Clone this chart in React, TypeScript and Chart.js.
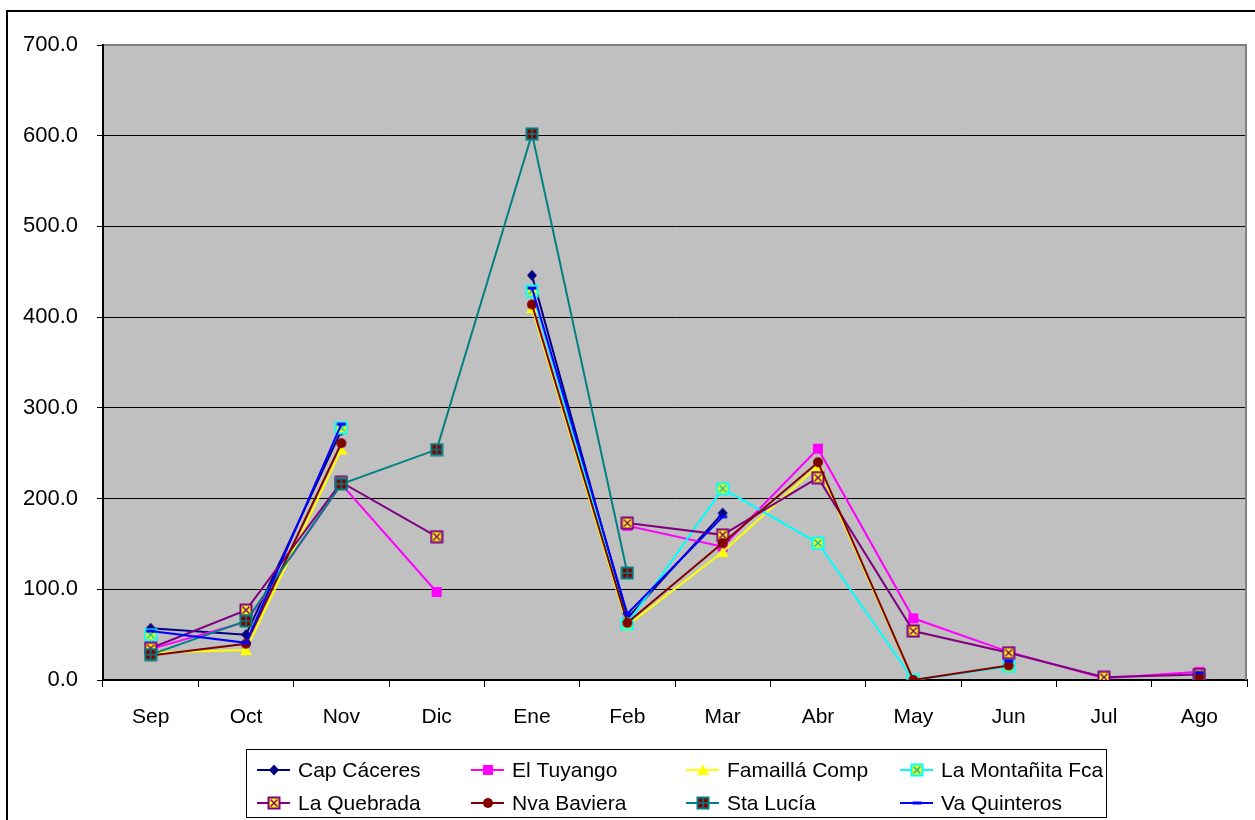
import React, { useEffect, useRef } from "react";
import { Chart, registerables } from "chart.js";

Chart.register(...registerables);

const months = ["Sep", "Oct", "Nov", "Dic", "Ene", "Feb", "Mar", "Abr", "May", "Jun", "Jul", "Ago"];

const capCaceres = [57, 50, 275, null, 446, 68, 184, null, null, null, null, null];
const elTuyango = [34, 64, 216, 97, null, 170, 147, 255, 68, 31, 2, 9];
const famailla = [30, 33, 254, null, 410, 60, 141, 236, 0, null, null, 6];
const laMontanita = [50, null, 278, null, 429, 62, 211, 151, 0, 15, null, 3];
const laQuebrada = [35, 77, 218, 158, null, 173, 160, 223, 54, 30, 3, 6];
const nvaBaviera = [27, 40, 261, null, 414, 63, 151, 240, 0, 16, null, 4];
const staLucia = [28, 65, 216, 254, 602, 118, null, null, null, null, null, null];
const vaQuinteros = [54, 41, 282, null, 432, 73, 180, null, null, 21, null, 8];

const seriesNames = [
  "Cap Cáceres",
  "El Tuyango",
  "Famaillá Comp",
  "La Montañita Fca",
  "La Quebrada",
  "Nva Baviera",
  "Sta Lucía",
  "Va Quinteros",
];
const seriesValues = [capCaceres, elTuyango, famailla, laMontanita, laQuebrada, nvaBaviera, staLucia, vaQuinteros];
const seriesColors = ["#000080", "#FF00FF", "#FFFF00", "#00FFFF", "#800080", "#800000", "#008080", "#0000FF"];
const markerKinds = ["diamond", "square", "triangle", "boxX", "boxX2", "circle", "boxPlus", "dash"];

const FONT = "'Liberation Sans', Arial, sans-serif";

function makeMarker(kind: string, color: string): HTMLCanvasElement {
  const c = document.createElement("canvas");
  const s = 14;
  c.width = s;
  c.height = s;
  const g = c.getContext("2d")!;
  const m = s / 2;
  if (kind === "diamond") {
    g.fillStyle = color;
    g.beginPath();
    g.moveTo(m, m - 5.5);
    g.lineTo(m + 5, m);
    g.lineTo(m, m + 5.5);
    g.lineTo(m - 5, m);
    g.closePath();
    g.fill();
  } else if (kind === "square") {
    g.fillStyle = color;
    g.fillRect(m - 5, m - 5, 10, 10);
  } else if (kind === "triangle") {
    g.fillStyle = color;
    g.beginPath();
    g.moveTo(m, m - 5.5);
    g.lineTo(m + 6, m + 5);
    g.lineTo(m - 6, m + 5);
    g.closePath();
    g.fill();
  } else if (kind === "circle") {
    g.fillStyle = color;
    g.beginPath();
    g.arc(m, m, 5, 0, Math.PI * 2);
    g.fill();
  } else if (kind === "dash") {
    g.fillStyle = color;
    g.fillRect(m - 4.5, m - 1.5, 9, 3);
  } else {
    const fill = kind === "boxPlus" ? "#800000" : "#FFFF00";
    g.fillStyle = color;
    g.fillRect(0.5, 0.5, 13, 13);
    g.fillStyle = fill;
    g.fillRect(2.5, 2.5, 9, 9);
    g.strokeStyle = kind === "boxX" ? "#00C0C0" : color;
    g.lineWidth = 1.5;
    g.beginPath();
    if (kind === "boxPlus") {
      g.moveTo(7, 2.5);
      g.lineTo(7, 11.5);
      g.moveTo(2.5, 7);
      g.lineTo(11.5, 7);
    } else {
      g.moveTo(3.5, 3.5);
      g.lineTo(10.5, 10.5);
      g.moveTo(10.5, 3.5);
      g.lineTo(3.5, 10.5);
    }
    g.stroke();
  }
  return c;
}

const legendCols = [257, 471, 686, 900];
const legendRows = [770, 803];

export default function App() {
  const ref = useRef<HTMLCanvasElement | null>(null);

  useEffect(() => {
    if (!ref.current) return;
    const markers = seriesNames.map((_, i) => makeMarker(markerKinds[i], seriesColors[i]));

    const framePlugin = {
      id: "frame",
      beforeDraw(chart: any) {
        const { ctx, chartArea } = chart;
        ctx.save();
        ctx.fillStyle = "#FFFFFF";
        ctx.fillRect(0, 0, chart.width, chart.height);
        ctx.strokeStyle = "#000000";
        ctx.lineWidth = 2;
        ctx.strokeRect(7, 11, 1300, 900);
        ctx.fillStyle = "#C0C0C0";
        ctx.fillRect(chartArea.left, chartArea.top, chartArea.right - chartArea.left, chartArea.bottom - chartArea.top);
        ctx.restore();
      },
      beforeDatasetsDraw(chart: any) {
        const { ctx, chartArea } = chart;
        ctx.save();
        ctx.strokeStyle = "#808080";
        ctx.lineWidth = 2;
        ctx.beginPath();
        ctx.moveTo(chartArea.left + 1, chartArea.top);
        ctx.lineTo(chartArea.right - 1, chartArea.top);
        ctx.lineTo(chartArea.right - 1, chartArea.bottom);
        ctx.stroke();
        ctx.restore();
      },
      afterDraw(chart: any) {
        const { ctx } = chart;
        ctx.save();
        ctx.strokeStyle = "#000000";
        ctx.lineWidth = 1;
        ctx.strokeRect(246.5, 749.5, 860, 68);
        ctx.font = `21px ${FONT}`;
        ctx.textBaseline = "middle";
        ctx.textAlign = "left";
        chart.data.datasets.forEach((ds: any, i: number) => {
          const x = legendCols[i % 4];
          const y = legendRows[Math.floor(i / 4)];
          ctx.strokeStyle = ds.borderColor;
          ctx.lineWidth = 2;
          ctx.beginPath();
          ctx.moveTo(x, y);
          ctx.lineTo(x + 33, y);
          ctx.stroke();
          const img = markers[i];
          ctx.drawImage(img, Math.round(x + 16.5 - img.width / 2), Math.round(y - img.height / 2));
          ctx.fillStyle = "#000000";
          ctx.fillText(ds.label, x + 41, y + 1);
        });
        ctx.restore();
      },
    };

    const chart = new Chart(ref.current, {
      type: "line",
      data: {
        labels: months,
        datasets: seriesNames.map((name, i) => ({
          label: name,
          data: seriesValues[i],
          borderColor: seriesColors[i],
          backgroundColor: seriesColors[i],
          borderWidth: 2,
          pointStyle: markers[i] as any,
          pointRadius: 6,
          spanGaps: false,
          tension: 0,
          order: seriesNames.length - 1 - i,
        })),
      },
      options: {
        animation: false,
        responsive: false,
        devicePixelRatio: 1,
        layout: { padding: { left: 0, right: 3, top: 45, bottom: 0 } },
        plugins: {
          legend: { display: false },
          tooltip: { enabled: false },
          title: { display: false },
        },
        scales: {
          x: {
            type: "category",
            offset: true,
            afterFit: (s: any) => {
              s.height = 140;
            },
            grid: {
              offset: true,
              drawOnChartArea: false,
              drawTicks: true,
              tickLength: 7,
              color: "#000000",
              lineWidth: 1,
            },
            border: { display: true, color: "#000000", width: 2 },
            ticks: {
              color: "#000000",
              font: { family: FONT, size: 21 },
              padding: 18,
              maxRotation: 0,
              autoSkip: false,
            },
          },
          y: {
            min: 0,
            max: 700,
            afterFit: (s: any) => {
              s.width = 103;
            },
            grid: {
              color: "#000000",
              lineWidth: 1,
              drawTicks: true,
              tickLength: 6,
            },
            border: { display: true, color: "#000000", width: 2 },
            ticks: {
              stepSize: 100,
              color: "#000000",
              font: { family: FONT, size: 22 },
              padding: 19,
              callback: (v: any) => Number(v).toFixed(1),
            },
          },
        },
      },
      plugins: [framePlugin],
    });
    return () => chart.destroy();
  }, []);

  return (
    <div style={{ position: "fixed", left: 0, top: 0, width: 1255, height: 820 }}>
      <canvas ref={ref} width={1255} height={820} style={{ display: "block", width: 1255, height: 820 }} />
    </div>
  );
}
